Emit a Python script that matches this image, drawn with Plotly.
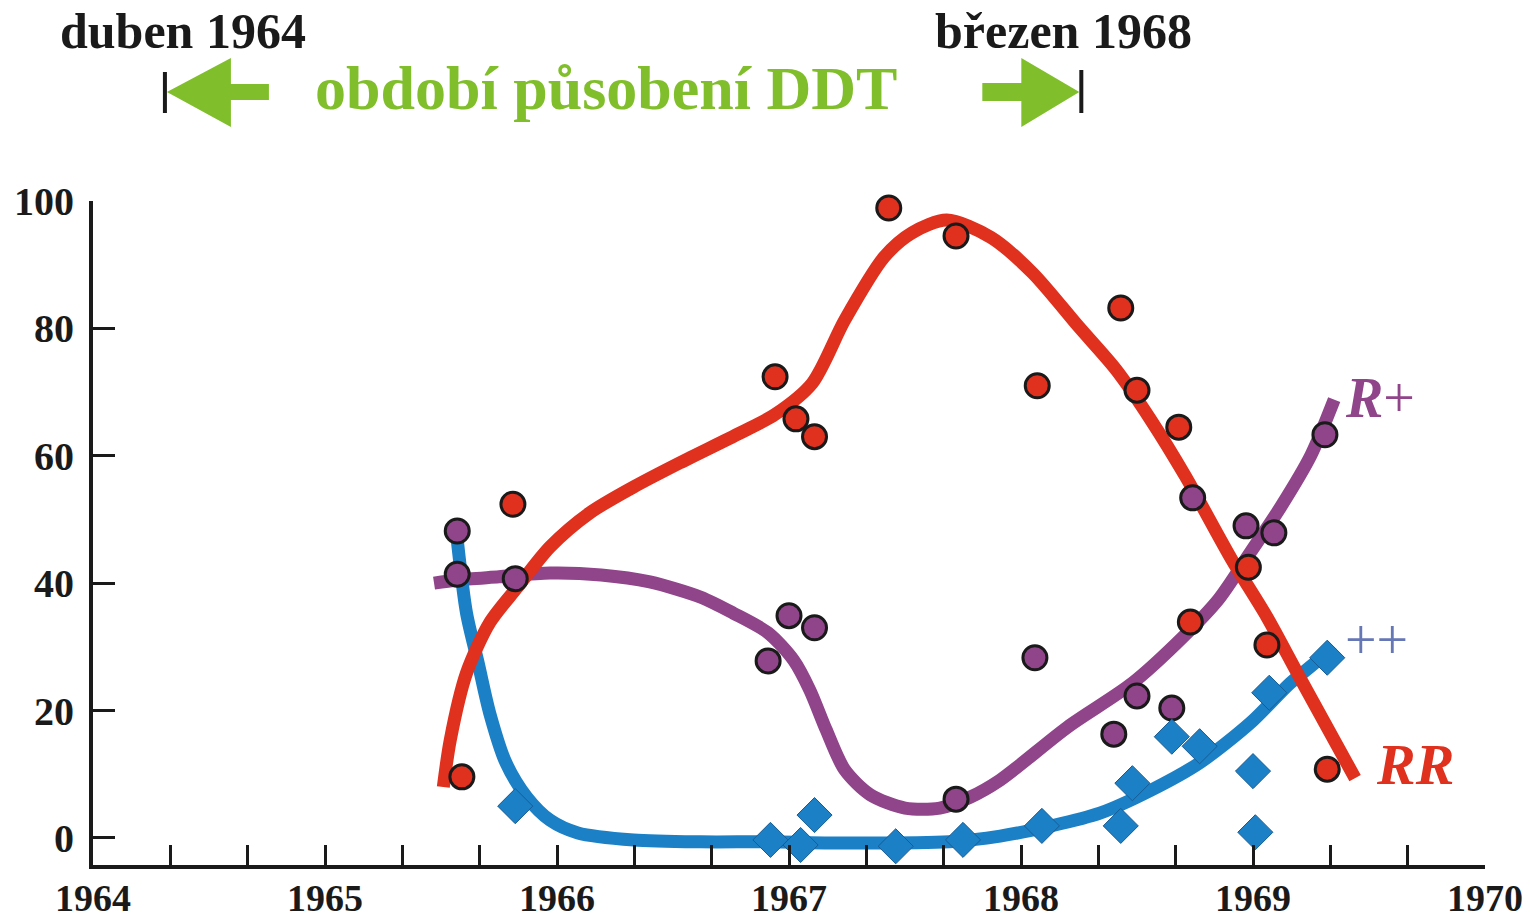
import plotly.graph_objects as go

# ---------------- data ----------------
# RR (red circles)
rr_x = [1965.59, 1965.81, 1966.94, 1967.03, 1967.11, 1967.43, 1967.72, 1968.07,
        1968.43, 1968.50, 1968.68, 1968.73, 1968.98, 1969.06, 1969.32]
rr_y = [9.6, 52.4, 72.4, 65.8, 63.0, 98.9, 94.5, 71.0,
        83.2, 70.3, 64.5, 33.9, 42.5, 30.3, 10.8]

# R+ (purple circles)
rp_x = [1965.57, 1965.57, 1965.82, 1966.91, 1967.00, 1967.11, 1967.72, 1968.06,
        1968.40, 1968.50, 1968.65, 1968.74, 1968.97, 1969.09, 1969.31]
rp_y = [48.2, 41.4, 40.7, 27.8, 34.9, 33.0, 6.1, 28.3,
        16.3, 22.3, 20.4, 53.4, 49.0, 47.9, 63.3]

# ++ (blue diamonds)
pp_x = [1965.82, 1966.92, 1967.05, 1967.11, 1967.46, 1967.75, 1968.09, 1968.43,
        1968.48, 1968.65, 1968.77, 1969.00, 1969.01, 1969.07, 1969.32]
pp_y = [5.0, -0.3, -1.1, 3.6, -1.3, -0.3, 1.9, 1.9,
        8.6, 15.9, 14.4, 10.5, 0.9, 22.8, 28.3]

# fitted curves
rr_curve_x = [1965.51, 1965.54, 1965.61, 1965.71, 1965.83, 1965.97, 1966.14, 1966.33,
              1966.53, 1966.79, 1966.94, 1967.10, 1967.24, 1967.41, 1967.53, 1967.68,
              1967.87, 1968.05, 1968.25, 1968.41, 1968.56, 1968.71, 1968.91, 1969.06,
              1969.20, 1969.44]
rr_curve_y = [8.0, 15.4, 25.9, 33.8, 39.4, 45.7, 51.0, 55.1,
              58.9, 63.6, 66.5, 71.4, 81.3, 91.2, 95.0, 97.0,
              94.3, 88.7, 80.2, 73.5, 65.6, 56.7, 43.6, 34.7,
              25.3, 9.4]

rp_curve_x = [1965.47, 1965.57, 1965.75, 1965.97, 1966.19, 1966.40, 1966.62, 1966.76,
              1966.91, 1967.02, 1967.09, 1967.16, 1967.24, 1967.35, 1967.50, 1967.65,
              1967.78, 1967.91, 1968.20, 1968.48, 1968.70, 1968.85, 1968.99, 1969.12,
              1969.25, 1969.35]
rp_curve_y = [40.0, 40.5, 41.0, 41.6, 41.3, 40.2, 37.8, 35.3,
              32.2, 27.9, 23.2, 17.0, 10.7, 6.8, 4.7, 4.7,
              6.4, 9.1, 17.4, 24.3, 31.6, 37.4, 44.9, 52.0,
              60.1, 68.8]

pp_curve_x = [1965.57, 1965.61, 1965.66, 1965.71, 1965.78, 1965.87, 1965.97, 1966.09,
              1966.33, 1966.62, 1966.91, 1967.26, 1967.69, 1967.91, 1968.13, 1968.34,
              1968.56, 1968.77, 1968.99, 1969.16, 1969.28, 1969.34]
pp_curve_y = [46.8, 35.3, 27.5, 19.6, 11.8, 6.4, 2.8, 0.8,
              -0.3, -0.6, -0.6, -0.8, -0.6, 0.3, 1.9, 3.9,
              7.5, 11.8, 18.1, 24.3, 27.9, 30.3]

x_tick_vals = [1964, 1965, 1966, 1967, 1968, 1969, 1970]
x_tick_text = ["1964", "1965", "1966", "1967", "1968", "1969", "1970"]
y_tick_vals = [0, 20, 40, 60, 80, 100]

ddt_start = 1964.31   # duben 1964 marker
ddt_end = 1968.26     # březen 1968 marker

# ---------------- styling ----------------
RED = "#e0301e"
PURPLE = "#90448a"
BLUE = "#1b80c6"
GREEN = "#80bf2b"
PLUS_C = "#6677b5"
FONT = "Liberation Serif"

W, H = 1530, 919
ML, MR, MT, MB = 93, 45, 201, 54
PW, PH = W - ML - MR, H - MT - MB
X0, X1 = 1964, 1970
Y0, Y1 = -4.24, 100.0


def px2x(p):
    return X0 + (p - ML) / PW * (X1 - X0)


def py2paper(p):
    return (H - MB - p) / PH


fig = go.Figure()

# curves
for cx, cy, col in [(rp_curve_x, rp_curve_y, PURPLE),
                    (pp_curve_x, pp_curve_y, BLUE),
                    (rr_curve_x, rr_curve_y, RED)]:
    fig.add_trace(go.Scatter(x=cx, y=cy, mode="lines",
                             line=dict(color=col, width=13, shape="spline", smoothing=0.8),
                             cliponaxis=False, hoverinfo="skip", showlegend=False))

# markers
fig.add_trace(go.Scatter(x=rp_x, y=rp_y, mode="markers", showlegend=False, cliponaxis=False,
                         marker=dict(symbol="circle", size=24, color=PURPLE,
                                     line=dict(color="#1a1a1a", width=3))))
fig.add_trace(go.Scatter(x=pp_x, y=pp_y, mode="markers", showlegend=False, cliponaxis=False,
                         marker=dict(symbol="diamond", size=27, color=BLUE,
                                     line=dict(color="#175d95", width=1))))
fig.add_trace(go.Scatter(x=rr_x, y=rr_y, mode="markers", showlegend=False, cliponaxis=False,
                         marker=dict(symbol="circle", size=24, color=RED,
                                     line=dict(color="#1a1a1a", width=3))))

# series labels
annos = [
    dict(x=px2x(1380), y=(838 - 398) / 6.37, text="<b><i>R</i></b>+", font=dict(color=PURPLE, size=56)),
    dict(x=px2x(1376), y=(838 - 640) / 6.37, text="++", font=dict(color=PLUS_C, size=56)),
    dict(x=px2x(1415), y=(838 - 765) / 6.37, text="<b><i>RR</i></b>", font=dict(color=RED, size=58)),
]
for a in annos:
    a["font"]["family"] = FONT
    fig.add_annotation(xref="x", yref="y", showarrow=False, xanchor="center", yanchor="middle", **a)

# header texts
fig.add_annotation(xref="paper", yref="paper", x=(183 - ML) / PW, y=py2paper(31),
                   text="<b>duben 1964</b>", showarrow=False, xanchor="center", yanchor="middle",
                   font=dict(family=FONT, size=50, color="#1a1a1a"))
fig.add_annotation(xref="paper", yref="paper", x=(1063 - ML) / PW, y=py2paper(31),
                   text="<b>březen 1968</b>", showarrow=False, xanchor="center", yanchor="middle",
                   font=dict(family=FONT, size=50, color="#1a1a1a"))
fig.add_annotation(xref="paper", yref="paper", x=(606 - ML) / PW, y=py2paper(88),
                   text="<b>období působení DDT</b>", showarrow=False, xanchor="center", yanchor="middle",
                   font=dict(family=FONT, size=62, color=GREEN))

# arrows + end bars
shapes = []
# left
shapes.append(dict(type="line", xref="x", yref="paper", x0=ddt_start, x1=ddt_start,
                   y0=py2paper(72), y1=py2paper(113), line=dict(color="#1a1a1a", width=4)))
lt, lh, ls = ddt_start + px2x(166) - px2x(164), px2x(230) - px2x(166), px2x(268) - px2x(230)
path_l = (f"M {lt},{py2paper(92)} L {lt+lh},{py2paper(58)} L {lt+lh},{py2paper(84)} "
          f"L {lt+lh+ls},{py2paper(84)} L {lt+lh+ls},{py2paper(100)} L {lt+lh},{py2paper(100)} "
          f"L {lt+lh},{py2paper(127)} Z")
shapes.append(dict(type="path", xref="x", yref="paper", path=path_l,
                   fillcolor=GREEN, line=dict(width=0)))
# right
shapes.append(dict(type="line", xref="x", yref="paper", x0=ddt_end, x1=ddt_end,
                   y0=py2paper(70), y1=py2paper(113), line=dict(color="#1a1a1a", width=4)))
rt = ddt_end - (px2x(1082) - px2x(1080))
rh, rs = px2x(1080) - px2x(1022), px2x(1022) - px2x(983)
path_r = (f"M {rt},{py2paper(92)} L {rt-rh},{py2paper(58)} L {rt-rh},{py2paper(83)} "
          f"L {rt-rh-rs},{py2paper(83)} L {rt-rh-rs},{py2paper(101)} L {rt-rh},{py2paper(101)} "
          f"L {rt-rh},{py2paper(127)} Z")
shapes.append(dict(type="path", xref="x", yref="paper", path=path_r,
                   fillcolor=GREEN, line=dict(width=0)))

fig.update_layout(
    width=W, height=H,
    margin=dict(l=ML, r=MR, t=MT, b=MB, pad=0),
    paper_bgcolor="white", plot_bgcolor="white",
    showlegend=False,
    shapes=shapes,
    xaxis=dict(range=[X0, X1], tickvals=x_tick_vals, ticktext=x_tick_text, automargin=False,
               ticks="inside", ticklen=20, tickwidth=3, tickcolor="#1a1a1a",
               showline=True, linewidth=4, linecolor="#1a1a1a",
               showgrid=False, zeroline=False, ticklabelstandoff=-4,
               tickfont=dict(family=FONT, size=38, color="#1a1a1a", weight="bold"),
               minor=dict(dtick=1 / 3, tick0=1964, ticks="inside", ticklen=20, tickwidth=3,
                          tickcolor="#1a1a1a", showgrid=False)),
    yaxis=dict(range=[Y0, Y1], tickvals=y_tick_vals, automargin=False,
               ticks="inside", ticklen=22, tickwidth=3, tickcolor="#1a1a1a",
               showline=True, linewidth=4, linecolor="#1a1a1a",
               showgrid=False, zeroline=False, ticklabelstandoff=7,
               tickfont=dict(family=FONT, size=40, color="#1a1a1a", weight="bold")),
)

fig.write_html("out.html", config={"displayModeBar": False},
               post_script="document.body.style.margin='0';")
